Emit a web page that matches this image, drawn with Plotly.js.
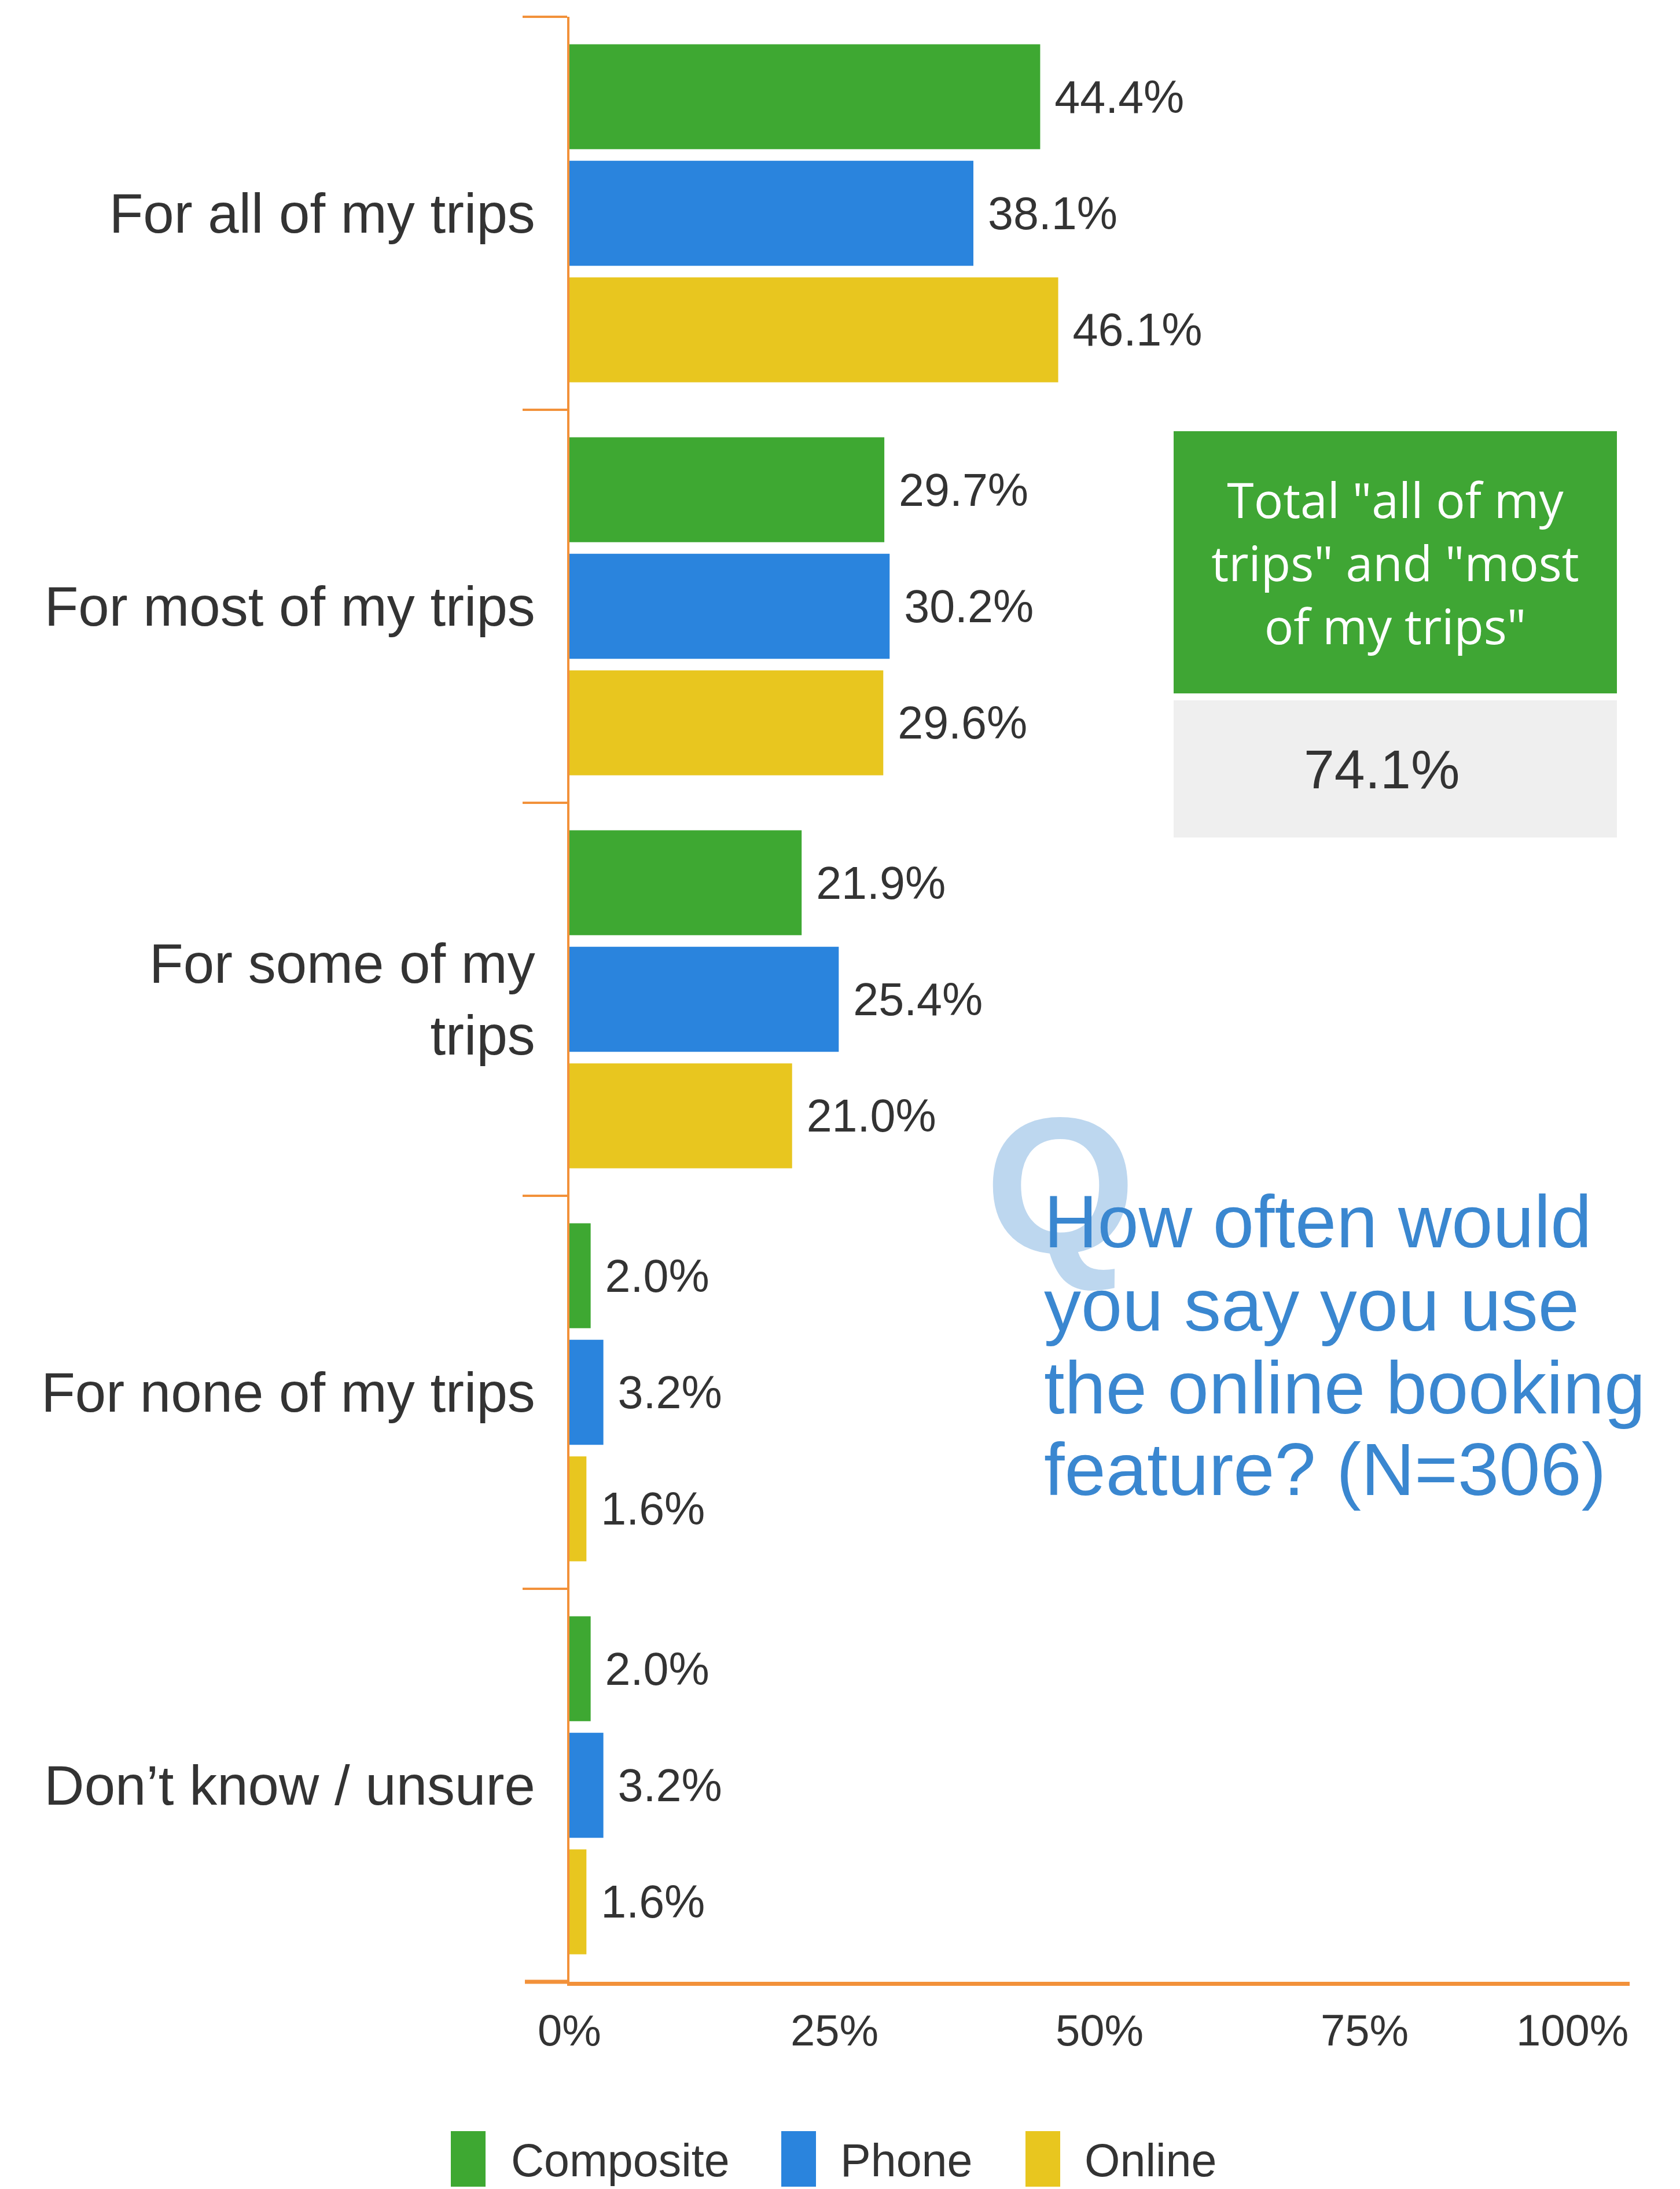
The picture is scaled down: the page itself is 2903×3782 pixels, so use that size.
<!DOCTYPE html>
<html>
<head>
<meta charset="utf-8">
<script src="https://cdn.plot.ly/plotly-3.0.1.min.js"></script>
<style>html,body{margin:0;padding:0;background:#fff;}#chart{width:2903px;height:3782px;}</style>
</head>
<body>
<div id="chart"></div>
<script>
// ---- data ----
const categories = ["For all of my trips", "For most of my trips", "For some of my<br>trips", "For none of my trips", "Don’t know / unsure"];
const composite = [44.4, 29.7, 21.9, 2.0, 2.0];
const phone = [38.1, 30.2, 25.4, 3.2, 3.2];
const online = [46.1, 29.6, 21.0, 1.6, 1.6];
const seriesNames = ["Composite", "Phone", "Online"];
const xTickVals = [0, 25, 50, 75, 100];
const xTickText = ["0%", "25%", "50%", "75%", "100%"];
const boxTitle = 'Total "all of my<br>trips" and "most<br>of my trips"';
const boxValue = "74.1%";
const questionLines = ["How often would", "you say you use", "the online booking", "feature? (N=306)"];

// ---- styling ----
const W = 2903, H = 3782;
const M = {l: 984, r: 87, t: 29, b: 358};
const PW = W - M.l - M.r, PH = H - M.t - M.b;
const px2x = p => (p - M.l) / PW;
const py2y = p => (H - M.b - p) / PH;
const colors = ["#3ea832", "#2a84dd", "#e8c61f"];
const orange = "#f2913a";
const txt = "#333333";
const FONT = "Liberation Sans, Arial, sans-serif";

const values = [composite, phone, online];
const traces = values.map((v, i) => ({
  type: "bar",
  orientation: "h",
  name: seriesNames[i],
  x: v,
  y: categories,
  marker: {color: colors[i]},
  texttemplate: "\u00a0%{x:.1f}%",
  textposition: "outside",
  constraintext: "none",
  cliponaxis: false,
  textfont: {family: FONT, size: 79, color: txt},
  hoverinfo: "skip"
}));

const annotations = [];
const shapes = [];

// x tick labels, placed on the x axis scale
xTickVals.forEach((v, i) => {
  annotations.push({
    xref: "x", yref: "paper",
    x: v, y: py2y(3508),
    xanchor: i === xTickVals.length - 1 ? "right" : "center", yanchor: "middle",
    text: xTickText[i], showarrow: false,
    font: {family: FONT, size: 76, color: txt}
  });
});

// extension of the x axis line to the left (under the y tick marks)
shapes.push({
  type: "line", xref: "paper", yref: "paper",
  x0: px2x(907), x1: 0, y0: 0, y1: 0,
  line: {color: orange, width: 7}
});

// summary box
annotations.push({
  xref: "paper", yref: "paper",
  x: px2x(2411), y: py2y(971), xanchor: "center", yanchor: "middle",
  text: boxTitle, showarrow: false,
  width: 766, height: 453, bgcolor: "#3fa634", borderpad: 0, borderwidth: 0,
  font: {family: "Open Sans, sans-serif", size: 84, color: "#ffffff"}, align: "center"
});
shapes.push({
  type: "rect", xref: "paper", yref: "paper", layer: "below",
  x0: px2x(2028), x1: px2x(2794), y0: py2y(1447), y1: py2y(1210),
  fillcolor: "#efefef", line: {width: 0}
});
annotations.push({
  xref: "paper", yref: "paper",
  x: px2x(2387), y: py2y(1329), xanchor: "center", yanchor: "middle",
  text: boxValue, showarrow: false,
  font: {family: FONT, size: 95, color: txt}
});

// Q watermark
annotations.push({
  xref: "paper", yref: "paper",
  x: px2x(1832), y: py2y(2048), xanchor: "center", yanchor: "middle",
  text: "<b>Q</b>", showarrow: false,
  font: {family: FONT, size: 335, color: "#bdd7ef"}
});
// question text
const qY = [2110, 2254, 2397, 2538];
questionLines.forEach((t, i) => {
  annotations.push({
    xref: "paper", yref: "paper",
    x: px2x(1802), y: py2y(qY[i]), xanchor: "left", yanchor: "middle",
    text: t, showarrow: false,
    font: {family: FONT, size: 128, color: "#3a87d0"}
  });
});

// custom legend
const legRectX = [779, 1350, 1772];
const legTextX = [882, 1451, 1873];
seriesNames.forEach((n, i) => {
  shapes.push({
    type: "rect", xref: "paper", yref: "paper",
    x0: px2x(legRectX[i]), x1: px2x(legRectX[i] + 60),
    y0: py2y(3682), y1: py2y(3778),
    fillcolor: colors[i], line: {width: 0}
  });
  annotations.push({
    xref: "paper", yref: "paper",
    x: px2x(legTextX[i]), y: py2y(3778), xanchor: "left", yanchor: "bottom",
    text: n, showarrow: false, borderpad: 0,
    font: {family: FONT, size: 79, color: txt}
  });
});

const layout = {
  width: W, height: H,
  margin: M,
  paper_bgcolor: "#ffffff", plot_bgcolor: "#ffffff",
  barmode: "group",
  bargap: 0.11,
  bargroupgap: 0.1,
  showlegend: false,
  font: {family: FONT, color: txt},
  xaxis: {
    range: [0, 100],
    tickvals: xTickVals,
    showticklabels: false,
    showgrid: false, zeroline: false,
    showline: true, linecolor: orange, linewidth: 7,
    ticks: "",
    fixedrange: true
  },
  yaxis: {
    autorange: "reversed",
    showgrid: false, zeroline: false,
    showline: true, linecolor: orange, linewidth: 4,
    ticks: "outside", tickson: "boundaries", ticklen: 77, tickwidth: 4, tickcolor: orange,
    ticklabelstandoff: 36,
    tickfont: {family: FONT, size: 96, color: txt},
    fixedrange: true
  },
  annotations: annotations,
  shapes: shapes
};

Plotly.newPlot("chart", traces, layout, {displayModeBar: false, staticPlot: true});
</script>
</body>
</html>
